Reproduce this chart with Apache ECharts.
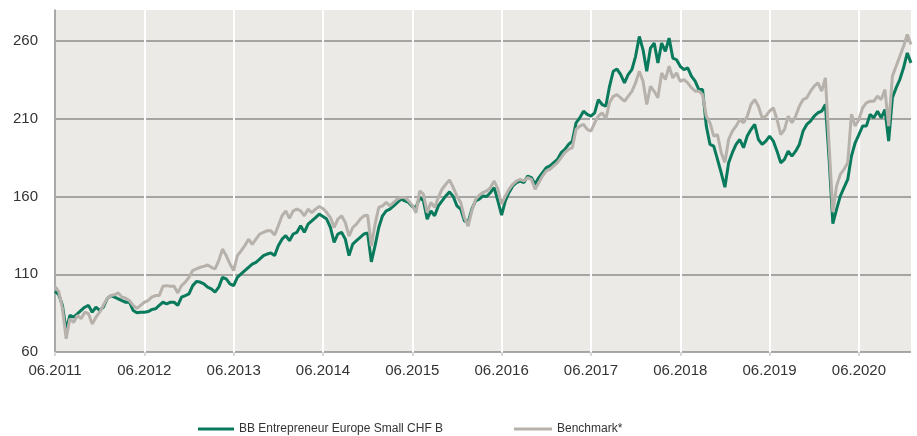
<!DOCTYPE html>
<html>
<head>
<meta charset="utf-8">
<script src="https://cdn.jsdelivr.net/npm/echarts@6/dist/echarts.min.js"></script>
<style>
  html, body { margin: 0; padding: 0; background: #fff; }
  #chart { width: 917px; height: 436px; }
</style>
</head>
<body>
<div id="chart"></div>
<script>
// half-month steps from 01.06.2011 to 01.01.2021
const startYear = 2011;
const startMonth = 6;
const stepCount = 231;

const fundName = "BB Entrepreneur Europe Small CHF B";
const benchName = "Benchmark*";

const yTicks = [60, 110, 160, 210, 260];

// fund, indexed
const fundValues = [
  99, 97, 90, 74, 83.5, 82.4, 84.6, 86.7, 88.8, 90,
  85.6, 88.8, 86.7, 88.8, 94.2, 96.3, 95.3, 94.2, 93, 92,
  92, 86.7, 85.2, 85.6, 85.6, 86, 87.3, 87.8, 90, 92,
  91, 92, 92, 90, 95.3, 96.3, 97.4, 102.7, 105.3, 105,
  103.8, 101.7, 100.6, 98.5, 101.7, 108, 107, 103.8, 102.7, 108,
  110.2, 112.4, 114.5, 116.6, 117.7, 119.8, 122, 123, 123.7, 122,
  128.4, 132.6, 134.8, 131.6, 135.9, 137, 141.2, 137, 142.3, 144.4,
  146.5, 148.7, 147.2, 145.5, 140.1, 130.5, 135.9, 137, 132.6, 122,
  129.4, 131.6, 133.7, 135.9, 136.5, 118, 128.4, 140.1, 147.6, 150.8,
  151.9, 154, 156.2, 158.3, 157.2, 156.2, 153.6, 152.9, 159.4, 157.2,
  145.5, 150.8, 147.6, 154, 157.2, 160.4, 163, 160, 154, 151.9,
  144.4, 143.3, 151.9, 157.2, 158.3, 160.4, 160, 162.6, 165.8, 157.2,
  148, 157.2, 162.6, 166.8, 169, 170, 169, 173.2, 172.2, 167.9,
  172.2, 175.4, 178.6, 179.7, 181.8, 183.9, 188.2, 190.3, 193.5, 195.7,
  207.4, 210.6, 214.9, 212.8, 211.7, 213.8, 222.4, 219.2, 218.1, 230.9,
  240.6, 242, 238.4, 233.1, 238.4, 241.6, 250.2, 263, 254.4, 240.6,
  255.5, 258.7, 245.9, 258.7, 253.4, 261.9, 249.1, 248, 243.8, 241.6,
  242.7, 237.4, 234.2, 228.8, 228.8, 205.3, 193.5, 192.4, 183.9, 175.3,
  166, 181.7, 188.2, 193.5, 196.7, 191.4, 198.9, 203.1, 206.4, 196.7,
  193.5, 195.7, 198.9, 195.7, 189.2, 181.7, 183.9, 189.2, 186, 189.2,
  193.5, 202.1, 206.4, 208.5, 211.7, 213.9, 214.9, 219.2, 183.9, 142.5,
  151.8, 160.3, 165.7, 171, 186, 194.6, 199.9, 205.3, 205.3, 212.8,
  210.6, 214.9, 210.6, 216, 195.7, 223.5, 229.9, 235.3, 242.8, 252.4,
  246
];

// benchmark, indexed
const benchValues = [
  102, 99, 88, 68.5, 81.4, 79, 83.5, 81.4, 85.6, 84.6,
  78, 82.4, 85.6, 90, 94.2, 96.3, 96.8, 98, 95.3, 94.6,
  93, 90, 88, 90, 92, 93, 95.3, 96.3, 96.3, 102.3,
  102.7, 102.3, 102.3, 98, 102.7, 104.9, 108, 112.4, 113.4, 114.5,
  115.1, 116, 114.5, 113.4, 118.8, 126.2, 122, 116.6, 112.4, 122,
  125, 128.4, 132.6, 129.3, 132.6, 135.9, 137, 138, 138, 135.2,
  141.2, 147.6, 150.8, 146, 150.8, 151.9, 150.8, 147.6, 151.9, 149.7,
  151.9, 153.6, 152.3, 149.7, 146.5, 140.1, 145.5, 147.6, 143.3, 134.5,
  140.1, 142.3, 145.5, 147.6, 148, 128, 142.3, 153, 154, 156.2,
  154, 156.2, 158.3, 159.4, 159.4, 157.2, 154.4, 149.5, 163.6, 161.5,
  149.7, 156.2, 153, 159.4, 164.7, 167.9, 170.7, 165.8, 160.4, 156.2,
  146.5, 141, 150.8, 158, 160.9, 162.6, 163.6, 165.8, 170, 164.7,
  155.1, 160.4, 164.7, 167.9, 170, 171.1, 170, 172.2, 171.1, 164.7,
  169, 173.2, 176.5, 177.5, 179.7, 181.8, 185, 188.2, 190.3, 191.4,
  203.2, 205.3, 206.4, 203.2, 202.1, 207.4, 211.7, 213.8, 210, 220.3,
  224.5, 225.6, 223.5, 221.3, 224.5, 227.7, 233.1, 240.6, 234.1, 219.2,
  230.9, 227.7, 223.5, 239.5, 235.2, 243.8, 236.3, 239.5, 234.1, 235.2,
  233.1, 230, 227.8, 227.8, 225.6, 211.7, 207.4, 198.9, 199.9, 188.2,
  182, 196.7, 202.1, 205.3, 209.6, 207.4, 211.7, 219.2, 222.4, 218.1,
  210.6, 211.7, 214.9, 217.1, 209.6, 199.9, 203.1, 211.7, 207.4, 211.7,
  218.1, 222.4, 223.5, 227.8, 231, 233.1, 227.8, 236.3, 192.4, 150,
  166.7, 174.2, 177.5, 181.7, 213, 205.3, 209.6, 217.1, 220.3, 221.3,
  221.3, 224.6, 222.4, 228.8, 205.3, 237.4, 243.8, 250.3, 256.7, 264.2,
  257.8
];

// category names: "DD.MM.YYYY"
const categories = [];
for (let i = 0; i < stepCount; i++) {
  const m = startMonth - 1 + Math.floor(i / 2);
  const year = startYear + Math.floor(m / 12);
  const month = (m % 12) + 1;
  const day = i % 2 === 0 ? "01" : "15";
  categories.push(day + "." + String(month).padStart(2, "0") + "." + year);
}

// only June 1st of each year gets a label / gridline
const isJune = (index) => index % 24 === 0;

const fundColor = "#0a7a5c";
const benchColor = "#b7b1ac";
const axisFont = "'Liberation Sans', Arial, sans-serif";

const chartInstance = echarts.init(document.getElementById("chart"), null, { renderer: "canvas" });

const initOption = {
  animation: false,
  backgroundColor: "#ffffff",
  grid: {
    left: 55,
    right: 6,
    top: 10,
    bottom: 84,
    show: true,
    backgroundColor: "#ebeae6",
    borderWidth: 0,
  },
  legend: [
    {
      data: [fundName],
      left: 193,
      top: 418,
      icon: "rect",
      itemWidth: 36,
      itemHeight: 3,
      itemGap: 0,
      textStyle: { fontFamily: axisFont, fontSize: 12, color: "#333" },
    },
    {
      data: [benchName],
      left: 509,
      top: 418,
      icon: "rect",
      itemWidth: 38,
      itemHeight: 3,
      itemGap: 0,
      textStyle: { fontFamily: axisFont, fontSize: 12, color: "#333" },
    },
  ],
  xAxis: {
    type: "category",
    data: categories,
    boundaryGap: false,
    axisLine: { show: false },
    axisTick: {
      show: true,
      interval: (index) => isJune(index),
      length: 4,
      lineStyle: { color: "#d9d8d4", width: 2 },
    },
    axisLabel: {
      interval: (index) => isJune(index),
      formatter: (value) => value.slice(3),
      margin: 11,
      fontFamily: axisFont,
      fontSize: 15,
      color: "#333",
    },
    splitLine: {
      show: true,
      interval: (index) => isJune(index),
      lineStyle: { color: "#ffffff", width: 2 },
    },
  },
  yAxis: {
    type: "value",
    min: 60,
    max: 280,
    axisLine: { show: true, lineStyle: { color: "#8c8c8c", width: 1.5 } },
    axisTick: { show: false, customValues: yTicks },
    axisLabel: {
      customValues: yTicks,
      margin: 17,
      fontFamily: axisFont,
      fontSize: 15,
      color: "#333",
    },
    splitLine: { show: true, lineStyle: { color: "#8c8c8c", width: 1.5 } },
  },
  series: [
    {
      name: fundName,
      type: "line",
      data: fundValues,
      showSymbol: false,
      symbol: "none",
      color: fundColor,
      lineStyle: { width: 3, color: fundColor },
    },
    {
      name: benchName,
      type: "line",
      data: benchValues,
      showSymbol: false,
      symbol: "none",
      color: benchColor,
      lineStyle: { width: 3, color: benchColor },
    },
  ],
};

chartInstance.setOption(initOption);
</script>
</body>
</html>
